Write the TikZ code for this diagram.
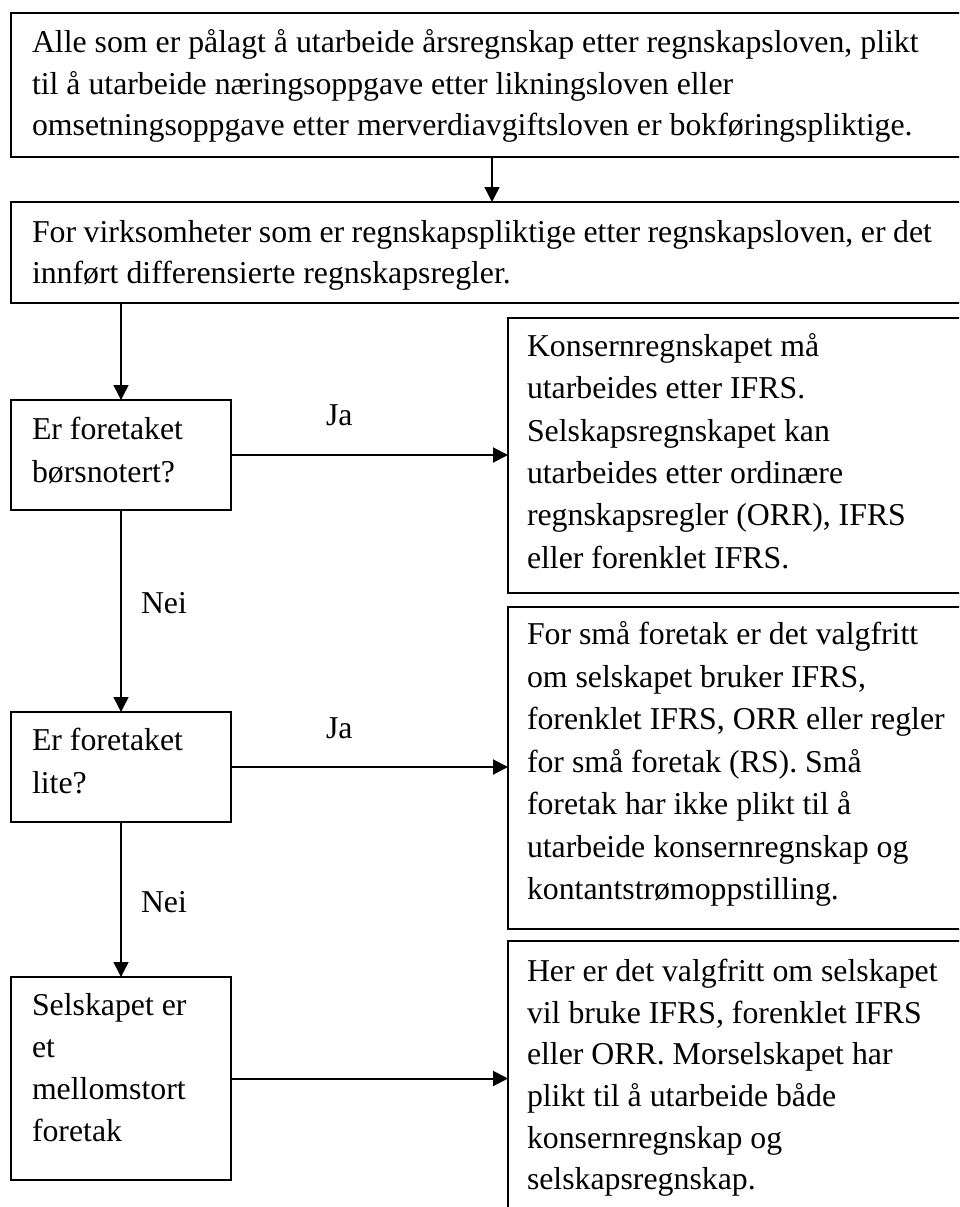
\documentclass[tikz,border=0pt]{standalone}
\usepackage{fontspec}
\setmainfont{Liberation Serif}
\usetikzlibrary{arrows.meta,calc}
\tikzset{
  box/.style={draw, line width=2pt, rectangle, inner sep=0pt, outer sep=0pt, anchor=north west},
  txt/.style={anchor=base west, inner sep=0pt, outer sep=0pt},
  vconn/.style={line width=1.5pt, -{Triangle[length=15pt,width=15pt]}},
  hconn/.style={line width=2pt, -{Triangle[length=15pt,width=15pt]}},
}
\newcommand{\mylines}[2]{\parbox[t]{900pt}{\fontsize{31.8}{#1}\selectfont\raggedright #2}}
\newcommand{\mylabel}[1]{\fontsize{31.8}{38}\selectfont #1}
\begin{document}
\begin{tikzpicture}[x=1pt,y=-1pt]
\useasboundingbox (0,0) rectangle (959,1207);
\clip (0,0) rectangle (959,1207);
% boxes
\node[box, minimum width=962pt, minimum height=144pt] (b1) at (11,13) {};
\node[box, minimum width=962pt, minimum height=101pt] (b2) at (11,202) {};
\node[box, minimum width=220pt, minimum height=110pt] (b3) at (11,400) {};
\node[box, minimum width=500pt, minimum height=275pt] (r1) at (508,318) {};
\node[box, minimum width=500pt, minimum height=322pt] (r2) at (508,607) {};
\node[box, minimum width=220pt, minimum height=110pt] (b4) at (11,712) {};
\node[box, minimum width=500pt, minimum height=400pt] (r3) at (508,941) {};
\node[box, minimum width=220pt, minimum height=203pt] (b5) at (11,977) {};
% texts
\node[txt] (t1) at (32,52.5) {\mylines{41.6pt}{Alle som er pålagt å utarbeide årsregnskap etter regnskapsloven, plikt\\til å utarbeide næringsoppgave etter likningsloven eller\\omsetningsoppgave etter merverdiavgiftsloven er bokføringspliktige.}};
\node[txt] (t2) at (32,242) {\mylines{41.6pt}{For virksomheter som er regnskapspliktige etter regnskapsloven, er det\\innført differensierte regnskapsregler.}};
\node[txt] (t3) at (32,439) {\mylines{43pt}{Er foretaket\\børsnotert?}};
\node[txt] (tr1) at (527,356.5) {\mylines{42.3pt}{Konsernregnskapet må\\utarbeides etter IFRS.\\Selskapsregnskapet kan\\utarbeides etter ordinære\\regnskapsregler (ORR), IFRS\\eller forenklet IFRS.}};
\node[txt] (tr2) at (527,644.5) {\mylines{42.5pt}{For små foretak er det valgfritt\\om selskapet bruker IFRS,\\forenklet IFRS, ORR eller regler\\for små foretak (RS). Små\\foretak har ikke plikt til å\\utarbeide konsernregnskap og\\kontantstrømoppstilling.}};
\node[txt] (t4) at (32,750) {\mylines{43pt}{Er foretaket\\lite?}};
\node[txt] (tr3) at (527,981.7) {\mylines{41.6pt}{Her er det valgfritt om selskapet\\vil bruke IFRS, forenklet IFRS\\eller ORR. Morselskapet har\\plikt til å utarbeide både\\konsernregnskap og\\selskapsregnskap.}};
\node[txt] (t5) at (32,1015) {\mylines{42.3pt}{Selskapet er\\et\\mellomstort\\foretak}};
% labels
\node[txt] (ja1) at (326,425) {\mylabel{Ja}};
\node[txt] (nei1) at (141,613) {\mylabel{Nei}};
\node[txt] (ja2) at (326,738) {\mylabel{Ja}};
\node[txt] (nei2) at (141,912) {\mylabel{Nei}};
% connectors
\draw[vconn] (b1.south) -- (b2.north);
\draw[vconn] (b2.south -| b3.north) -- (b3.north);
\draw[vconn] (b3.south) -- (b4.north);
\draw[vconn] (b4.south) -- (b5.north);
\draw[hconn] (b3.east) -- (b3.east -| r1.west);
\draw[hconn] (b4.east) -- (b4.east -| r2.west);
\draw[hconn] (b5.east) -- (b5.east -| r3.west);
\end{tikzpicture}
\end{document}
